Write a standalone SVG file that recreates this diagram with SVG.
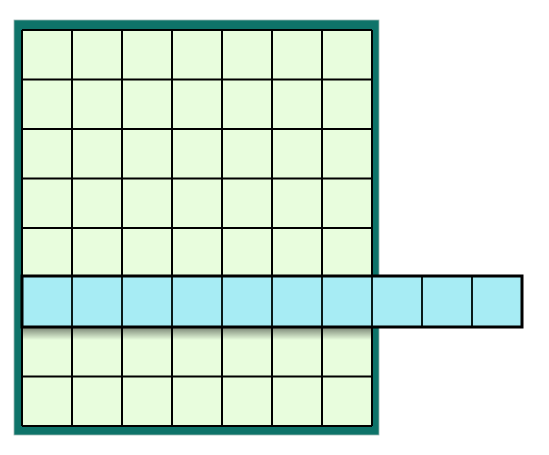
<svg xmlns="http://www.w3.org/2000/svg" width="549" height="455" viewBox="0 0 549 455">
<defs>
<linearGradient id="sh" x1="0" y1="0" x2="0" y2="1">
<stop offset="0" stop-color="#000" stop-opacity="0.45"/>
<stop offset="1" stop-color="#000" stop-opacity="0"/>
</linearGradient>
<style>
.g{stroke:#000;stroke-width:2;fill:none}
.b{stroke:#0a1a1a;stroke-width:2;fill:none}
</style>
</defs>
<rect width="549" height="455" fill="#fff"/>
<g id="board">
<rect x="14" y="20" width="365" height="415" fill="#0e7369" stroke="#9fb8b4" stroke-width="0.8"/>
<rect x="22" y="30" width="350" height="396" fill="#e8fddd"/>
<path class="g" d="M22,30H372M22,79.5H372M22,129H372M22,178.5H372M22,228H372M22,277.5H372M22,327H372M22,376.5H372M22,426H372M22,30V426M72,30V426M122,30V426M172,30V426M222,30V426M272,30V426M322,30V426M372,30V426"/>
</g>
<g id="row">
<rect x="22" y="328" width="350" height="12" fill="url(#sh)"/>
<rect x="22" y="276" width="500" height="51" fill="#a7ecf4"/>
<path class="b" d="M72,276V327M122,276V327M172,276V327M222,276V327M272,276V327M322,276V327M372,276V327M422,276V327M472,276V327"/>
<rect x="22" y="276" width="500" height="51" fill="none" stroke="#000" stroke-width="3"/>
</g>
</svg>
